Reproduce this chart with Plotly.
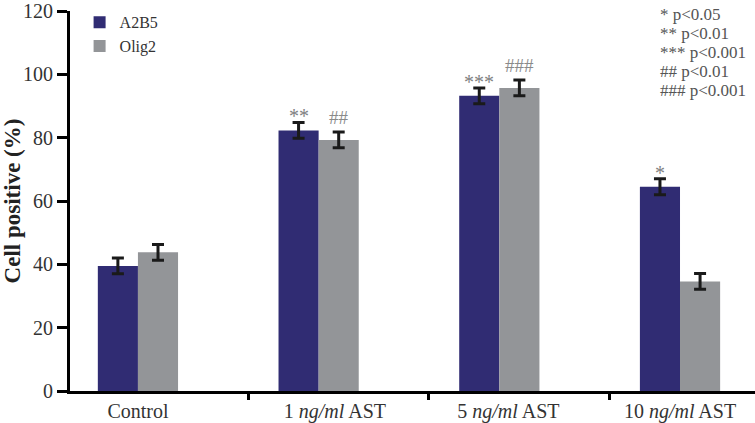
import plotly.graph_objects as go

categories = ["Control", "1 <i>ng/ml</i> AST", "5 <i>ng/ml</i> AST", "10 <i>ng/ml</i> AST"]
label_pos = [0.0, 1.09, 2.05, 3.0]
a2b5 = [39.5, 82.3, 93.2, 64.5]
a2b5_err = [2.5, 2.5, 2.5, 2.5]
olig2 = [43.8, 79.3, 95.7, 34.6]
olig2_err = [2.5, 2.5, 2.5, 2.5]
a2b5_sig = ["", "**", "***", "*"]
olig2_sig = ["", "##", "###", ""]
yticks = [0, 20, 40, 60, 80, 100, 120]
legend_note = ["* p<0.05", "** p<0.01", "*** p<0.001", "## p<0.01", "### p<0.001"]

x = list(range(len(categories)))
bw = 0.222
font = "Liberation Serif"

fig = go.Figure()
fig.add_trace(go.Bar(
    x=x, y=a2b5, name="A2B5", width=bw, offset=-bw,
    marker=dict(color="#302c73", line=dict(width=0)),
    error_y=dict(type="data", array=a2b5_err, color="#1a1a1a", thickness=3, width=6),
))
fig.add_trace(go.Bar(
    x=x, y=olig2, name="Olig2", width=bw, offset=0,
    marker=dict(color="#939598", line=dict(width=0)),
    error_y=dict(type="data", array=olig2_err, color="#1a1a1a", thickness=3, width=6),
))

for i in x:
    if a2b5_sig[i]:
        fig.add_annotation(x=i - bw / 2, y=a2b5[i] + a2b5_err[i], text=a2b5_sig[i],
                           showarrow=False, yanchor="bottom", yshift=-7,
                           font=dict(family=font, size=20, color="#808080"))
    if olig2_sig[i]:
        fig.add_annotation(x=i + bw / 2, y=olig2[i] + olig2_err[i], text=olig2_sig[i],
                           showarrow=False, yanchor="bottom", yshift=2,
                           font=dict(family=font, size=19, color="#8a8a8a"))

plot_top, plot_h = 8, 384
for k, line in enumerate(legend_note):
    cy = 12 + 19 * k
    fig.add_annotation(xref="paper", yref="paper", x=(658 - 70) / 685, y=1 - (cy - plot_top) / plot_h,
                       xanchor="left", yanchor="middle", align="left", showarrow=False, text=line,
                       font=dict(family=font, size=17, color="#555555"))

fig.update_layout(
    width=755, height=423,
    margin=dict(l=70, r=0, t=8, b=31),
    plot_bgcolor="white", paper_bgcolor="white",
    showlegend=True,
    legend=dict(x=0.014, y=1.015, xanchor="left", yanchor="top",
                font=dict(family=font, size=16, color="#333333"),
                bgcolor="rgba(0,0,0,0)", tracegroupgap=0, itemwidth=30),
    font=dict(family=font, color="#333333"),
)
fig.update_xaxes(
    range=[-0.376, 3.415], tickmode="array", tickvals=label_pos, ticktext=categories,
    ticks="outside", ticklen=0, showline=True, linecolor="black", linewidth=3,
    showgrid=False, zeroline=False, tickfont=dict(family=font, size=20, color="#333333"),
    minor=dict(ticks="outside", tick0=0.61, dtick=1, ticklen=6, tickwidth=3, tickcolor="black", showgrid=False),
)
fig.update_yaxes(
    range=[0, 120], tickvals=yticks, ticks="outside", ticklen=10, tickwidth=2.5, tickcolor="black",
    showline=True, linecolor="black", linewidth=3, showgrid=False, zeroline=False,
    ticklabeloverflow="allow",
    tickfont=dict(family=font, size=20, color="#333333"),
    title=dict(text="<b>Cell positive (%)</b>", font=dict(family=font, size=23, color="#222222"), standoff=5),
)

fig.write_html("out.html", config={"displayModeBar": False},
               post_script="document.body.style.margin='0px';document.body.style.overflow='hidden';")
